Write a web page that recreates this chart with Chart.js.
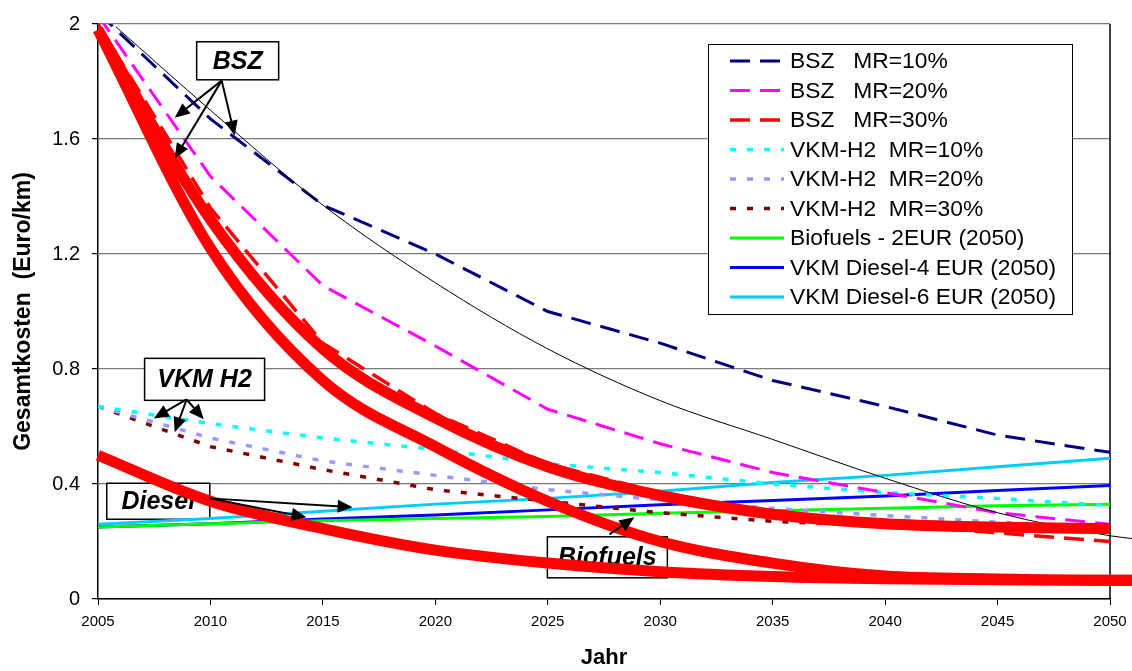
<!DOCTYPE html>
<html>
<head>
<meta charset="utf-8">
<script src="https://cdn.jsdelivr.net/npm/chart.js@4/dist/chart.umd.min.js"></script>
<style>
  html, body { margin: 0; padding: 0; background: #fff; }
</style>
</head>
<body>
<canvas id="chart" width="1132" height="671"></canvas>
<script>
// years on the x axis and the y tick values
var years = [2005, 2010, 2015, 2020, 2025, 2030, 2035, 2040, 2045, 2050];
var yearsExt = [2005, 2010, 2015, 2020, 2025, 2030, 2035, 2040, 2045, 2050, 2051];
var yTicks = [0, 0.4, 0.8, 1.2, 1.6, 2];

// series (Euro/km)
var bsz10 = [2.04, 1.67, 1.37, 1.20, 1.00, 0.89, 0.76, 0.67, 0.57, 0.51];
var bsz20 = [2.03, 1.47, 1.09, 0.88, 0.66, 0.54, 0.44, 0.37, 0.30, 0.26];
var bsz30 = [2.00, 1.36, 0.89, 0.645, 0.47, 0.37, 0.30, 0.26, 0.23, 0.20];
var h2mr10 = [0.67, 0.61, 0.56, 0.52, 0.47, 0.44, 0.40, 0.37, 0.35, 0.325];
var h2mr20 = [0.67, 0.56, 0.48, 0.43, 0.38, 0.345, 0.315, 0.29, 0.267, 0.25];
var h2mr30 = [0.67, 0.53, 0.45, 0.38, 0.34, 0.30, 0.27, 0.255, 0.25, 0.245];
var biofuels = [0.25, 0.262, 0.272, 0.28, 0.287, 0.298, 0.307, 0.316, 0.324, 0.33];
var diesel4 = [0.25, 0.262, 0.278, 0.292, 0.31, 0.328, 0.343, 0.358, 0.377, 0.395];
var diesel6 = [0.26, 0.28, 0.305, 0.33, 0.35, 0.375, 0.405, 0.43, 0.46, 0.49];

// hand drawn curves on top of the chart
var redUpper = [1.98, 1.32, 0.87, 0.63, 0.46, 0.36, 0.295, 0.262, 0.25, 0.245];
var redMiddle = [1.98, 1.22, 0.76, 0.53, 0.34, 0.20, 0.125, 0.08, 0.07, 0.065, 0.065];
var redLower = [0.50, 0.34, 0.245, 0.17, 0.125, 0.095, 0.078, 0.07, 0.067, 0.065, 0.065];
var blackX = [2005.8, 2010, 2015, 2020, 2025, 2030, 2035, 2040, 2045, 2050, 2051];
var blackY = [1.99, 1.70, 1.37, 1.10, 0.87, 0.69, 0.555, 0.42, 0.30, 0.22, 0.21];

var FONT = '"Liberation Sans", Arial, sans-serif';

function pts(xs, ys) {
    return xs.map(function (x, i) { return { x: x, y: ys[i] }; });
}

function line(label, xs, ys, color, width, dash) {
    return {
        label: label, data: pts(xs, ys),
        borderColor: color, backgroundColor: color,
        borderWidth: width, borderDash: dash || [],
        pointRadius: 0, tension: 0, fill: false
    };
}

// free curves, on a hidden copy of the x axis so they may run past 2050
function curve(xs, ys, color, width) {
    return {
        label: '', data: pts(xs, ys), xAxisID: 'x2',
        borderColor: color, borderWidth: width,
        pointRadius: 0, cubicInterpolationMode: 'monotone',
        fill: false, clip: false, borderCapStyle: 'butt'
    };
}

// annotation boxes (centre in data units) and their arrows
var notes = [
    { text: 'BSZ', at: [2011.21, 1.872], w: 82, h: 38, from: [2010.5, 1.803],
      to: [[2008.41, 1.674], [2008.41, 1.532], [2011.08, 1.612]] },
    { text: 'VKM H2', at: [2009.74, 0.764], w: 120, h: 42, from: [2008.94, 0.694],
      to: [[2007.48, 0.628], [2008.41, 0.580], [2009.70, 0.625]] },
    { text: 'Diesel', at: [2007.68, 0.340], w: 103, h: 36, from: [2009.96, 0.350],
      to: [[2016.32, 0.319], [2014.27, 0.284]] },
    { text: 'Biofuels', at: [2027.65, 0.145], w: 120, h: 41, from: [2027.74, 0.225],
      to: [[2028.85, 0.284]] }
];

function arrow(ctx, x1, y1, x2, y2) {
    var ang = Math.atan2(y2 - y1, x2 - x1), len = 15, half = 6.5;
    ctx.beginPath();
    ctx.moveTo(x1, y1);
    ctx.lineTo(x2 - Math.cos(ang) * len * 0.8, y2 - Math.sin(ang) * len * 0.8);
    ctx.stroke();
    ctx.beginPath();
    ctx.moveTo(x2, y2);
    ctx.lineTo(x2 - Math.cos(ang) * len + Math.sin(ang) * half, y2 - Math.sin(ang) * len - Math.cos(ang) * half);
    ctx.lineTo(x2 - Math.cos(ang) * len - Math.sin(ang) * half, y2 - Math.sin(ang) * len + Math.cos(ang) * half);
    ctx.closePath();
    ctx.fill();
}

var decor = {
    id: 'decor',
    beforeDatasetsDraw: function (chart) {
        var ctx = chart.ctx, a = chart.chartArea;
        var sx = chart.scales.x, sy = chart.scales.y;
        ctx.save();
        // right border of plot
        ctx.strokeStyle = '#000';
        ctx.lineWidth = 1.5;
        ctx.beginPath();
        ctx.moveTo(a.right, a.top);
        ctx.lineTo(a.right, a.bottom);
        ctx.stroke();
        // boxes
        notes.forEach(function (n) {
            var cx = sx.getPixelForValue(n.at[0]), cy = sy.getPixelForValue(n.at[1]);
            ctx.fillStyle = '#fff';
            ctx.fillRect(cx - n.w / 2, cy - n.h / 2, n.w, n.h);
            ctx.strokeStyle = '#000';
            ctx.lineWidth = 1.5;
            ctx.strokeRect(cx - n.w / 2, cy - n.h / 2, n.w, n.h);
            ctx.fillStyle = '#000';
            ctx.font = 'italic bold 25px ' + FONT;
            ctx.textAlign = 'center';
            ctx.textBaseline = 'middle';
            ctx.fillText(n.text, cx, cy + 1);
        });
        ctx.restore();
    },
    afterDatasetsDraw: function (chart) {
        var ctx = chart.ctx;
        var sx = chart.scales.x, sy = chart.scales.y;
        ctx.save();
        ctx.strokeStyle = '#000';
        ctx.fillStyle = '#000';
        ctx.lineWidth = 2;
        notes.forEach(function (n) {
            var x1 = sx.getPixelForValue(n.from[0]), y1 = sy.getPixelForValue(n.from[1]);
            n.to.forEach(function (t) {
                arrow(ctx, x1, y1, sx.getPixelForValue(t[0]), sy.getPixelForValue(t[1]));
            });
        });
        ctx.restore();
    },
    afterDraw: function (chart) {
        // legend box in the upper right of the plot
        var ctx = chart.ctx, a = chart.chartArea;
        var items = chart.data.datasets.filter(function (d) { return d.label; });
        var left = a.right - 402, top = a.top + 20, w = 364, h = 270;
        ctx.save();
        ctx.fillStyle = '#fff';
        ctx.fillRect(left, top, w, h);
        ctx.strokeStyle = '#000';
        ctx.lineWidth = 1;
        ctx.strokeRect(left + 0.5, top + 0.5, w, h);
        ctx.font = '22.8px ' + FONT;
        ctx.textAlign = 'left';
        ctx.textBaseline = 'middle';
        items.forEach(function (d, i) {
            var y = top + 17 + i * 29.5;
            ctx.strokeStyle = d.borderColor;
            ctx.lineWidth = d.borderWidth;
            ctx.setLineDash(d.borderDash || []);
            ctx.beginPath();
            ctx.moveTo(left + 22, y);
            ctx.lineTo(left + 76, y);
            ctx.stroke();
            ctx.setLineDash([]);
            ctx.fillStyle = '#000';
            ctx.fillText(d.label, left + 82, y + 1);
        });
        ctx.restore();
    }
};

var datasets = [
    curve(years, redUpper, '#ff0000', 11),
    curve(yearsExt, redMiddle, '#ff0000', 11),
    curve(yearsExt, redLower, '#ff0000', 11),
    curve(blackX, blackY, '#000000', 1),
    line('BSZ   MR=10%', years, bsz10, '#000080', 3, [20, 10]),
    line('BSZ   MR=20%', years, bsz20, '#ff00ff', 3, [20, 10]),
    line('BSZ   MR=30%', years, bsz30, '#ff0000', 3.5, [20, 10]),
    line('VKM-H2  MR=10%', years, h2mr10, '#00ffff', 3.5, [6, 11]),
    line('VKM-H2  MR=20%', years, h2mr20, '#9999ff', 3.5, [6, 11]),
    line('VKM-H2  MR=30%', years, h2mr30, '#800000', 3.5, [6, 11]),
    line('Biofuels - 2EUR (2050)', years, biofuels, '#00ff00', 3),
    line('VKM Diesel-4 EUR (2050)', years, diesel4, '#0000ff', 3),
    line('VKM Diesel-6 EUR (2050)', years, diesel6, '#00ccff', 3)
];

var ctx = document.getElementById('chart');
var chart = new Chart(ctx, {
    type: 'line',
    data: { datasets: datasets },
    plugins: [decor],
    options: {
        responsive: false,
        animation: false,
        devicePixelRatio: 1,
        layout: { padding: { top: 23, right: 22, left: 0, bottom: 0 } },
        plugins: { legend: { display: false }, tooltip: { enabled: false } },
        scales: {
            x: {
                type: 'linear', min: 2005, max: 2050,
                afterBuildTicks: function (s) { s.ticks = years.map(function (v) { return { value: v }; }); },
                afterFit: function (s) { s.height = 72; s.paddingRight = 0; s.paddingLeft = 0; },
                ticks: {
                    color: '#000', padding: 8, maxRotation: 0, autoSkip: false,
                    font: { family: FONT, size: 15 },
                    callback: function (v) { return String(v); }
                },
                grid: { drawOnChartArea: false, tickLength: 6, color: '#000', tickColor: '#000' },
                border: { color: '#000', width: 1.5 },
                title: {
                    display: true, text: 'Jahr', color: '#000',
                    font: { family: FONT, size: 22, weight: 'bold' },
                    padding: { top: 4, bottom: 0 }
                }
            },
            x2: {
                type: 'linear', display: false,
                afterDataLimits: function (s) { s.min = years[0]; s.max = years[years.length - 1]; }
            },
            y: {
                type: 'linear', min: 0, max: 2,
                afterBuildTicks: function (s) { s.ticks = yTicks.map(function (v) { return { value: v }; }); },
                afterFit: function (s) { s.width = 98; },
                ticks: {
                    color: '#000', padding: 12,
                    font: { family: FONT, size: 20 },
                    callback: function (v) { return String(v); }
                },
                grid: { color: '#7a7a7a', lineWidth: 1.2, tickLength: 6, tickColor: '#000' },
                border: { color: '#000', width: 1.5 },
                title: {
                    display: true, text: 'Gesamtkosten  (Euro/km)', color: '#000',
                    font: { family: FONT, size: 23, weight: 'bold' },
                    padding: { top: 10, bottom: 0 }
                }
            }
        }
    }
});
</script>
</body>
</html>
